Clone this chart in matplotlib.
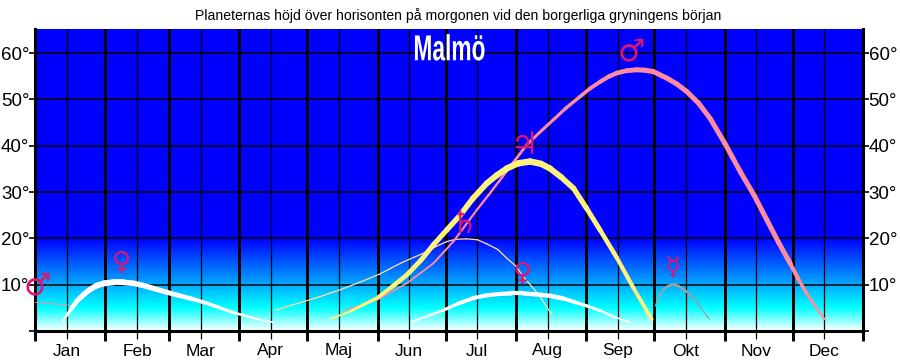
import matplotlib
matplotlib.use("Agg")
import matplotlib.pyplot as plt
import numpy as np
from matplotlib.collections import LineCollection
from matplotlib.patheffects import AbstractPathEffect
from matplotlib.transforms import Affine2D

plt.rcParams['font.family'] = ['Liberation Sans', 'DejaVu Sans']

months = ["Jan", "Feb", "Mar", "Apr", "Maj", "Jun", "Jul", "Aug", "Sep", "Okt", "Nov", "Dec"]
month_start = [0, 31, 59, 90, 120, 151, 181, 212, 243, 273, 304, 334, 365]
month_mid = [14, 45, 73, 104, 134, 165, 195, 226, 257, 287, 318, 348]
alt_ticks = [10, 20, 30, 40, 50, 60]

mars_early_d = [0, 17]
mars_early_a = [6.2, 5.5]
venus1_d = [12.2, 14, 16.2, 18.5, 21.3, 24, 27.2, 30.5, 34.5, 39, 43.4, 48, 53.6, 58.5, 63.9, 69.5, 75.7, 81.5, 87.4, 92.5, 97.7, 105]
venus1_a = [2.0, 3.4, 4.9, 6.5, 7.8, 8.9, 9.8, 10.3, 10.5, 10.5, 10.3, 9.8, 9.0, 8.3, 7.6, 6.9, 6.0, 5.0, 4.0, 3.3, 2.6, 1.9]
saturn_d = [105.8, 116.8, 125.5, 134.5, 143, 152, 161, 167, 172.7, 177, 181.5, 185.5, 190.3, 195, 199.2, 204, 208, 212, 215.3, 219, 222.7, 227.8]
saturn_a = [4.5, 6.1, 7.4, 8.9, 10.5, 12.3, 14.6, 15.9, 17.1, 18.3, 19.3, 19.8, 19.9, 19.7, 18.8, 17.6, 15.7, 14, 11.7, 9.6, 7.4, 3.5]
jupiter_d = [130, 138.9, 144.5, 150.7, 157, 163.9, 170, 175.6, 181.5, 187.4, 193, 199.2, 203.5, 208, 213, 218.3, 223, 227, 232, 237.4, 243, 249.1, 256.5, 263.8, 271.9]
jupiter_a = [2.6, 4.2, 5.6, 7.1, 9.4, 12.1, 15.2, 18.6, 21.8, 25, 28.6, 31.9, 33.6, 35.1, 36.2, 36.6, 36.1, 35.1, 33.2, 30.8, 26.6, 21.8, 15.8, 9.3, 2.5]
mars_d = [136, 150.7, 163.9, 175.6, 184.4, 194.7, 200, 205, 211, 216.8, 222.5, 228.5, 234, 240, 244.5, 249.1, 252.8, 256.5, 260.9, 265.3, 268.9, 272.6, 278.5, 283, 287.3, 292.5, 297.6, 304, 311, 317, 322.6, 327.7, 332.9, 336.5, 340.2, 344, 347.9]
mars_a = [4.4, 6.7, 10.3, 14.6, 19.3, 26.1, 29.4, 32.6, 36.5, 40.2, 42.9, 45.6, 48.1, 50.5, 52.3, 53.8, 54.9, 55.7, 56.2, 56.4, 56.3, 56, 54.6, 53.3, 51.7, 49.2, 45.9, 40.6, 34.3, 29.3, 24, 19.2, 14.6, 11.2, 8.1, 5.3, 2.6]
venus2_d = [166, 173, 180, 186.5, 193.2, 199, 205, 210, 215.3, 221, 227, 233, 238.8, 244, 249.1, 255.5, 262.3]
venus2_a = [2, 3.2, 4.5, 5.9, 7.1, 7.7, 8, 8.1, 8.1, 7.9, 7.6, 7, 6.1, 5.3, 4.4, 3, 1.9]
mercury_d = [273.4, 275, 277, 279, 281.7, 284, 287.3, 290.5, 293.2, 297.2]
mercury_a = [5.4, 7.4, 8.9, 9.7, 10.1, 9.6, 8.5, 7, 5.2, 2.6]


class Squeeze(AbstractPathEffect):
    # narrows the glyphs around a display x, matplotlib has no condensed bold here
    def __init__(self, cx, sx):
        super().__init__()
        self.cx = cx
        self.sx = sx

    def draw_path(self, renderer, gc, tpath, affine, rgbFace=None):
        squeeze = Affine2D().translate(-self.cx, 0).scale(self.sx, 1).translate(self.cx, 0)
        renderer.draw_path(gc, tpath, affine + squeeze, rgbFace)


def curve(ax, days, alts, color, w_pos, w_px, z=3):
    pts = np.column_stack([days, alts])
    segs = np.stack([pts[:-1], pts[1:]], axis=1)
    mids = (pts[:-1, 0] + pts[1:, 0]) / 2
    widths = np.interp(mids, w_pos, w_px) * 0.72
    ax.add_collection(LineCollection(segs, colors=color, linewidths=widths, capstyle='round', zorder=z))


fig = plt.figure(figsize=(9, 3.61), dpi=100)
ax = fig.add_axes([35 / 900, 1 - 331 / 361, 828 / 900, 302 / 361])

# sky gradient
h = np.linspace(0, 65.2, 600)
r = np.interp(h, [0, 5, 20], [1, 0, 0])
g = np.interp(h, [0, 5, 20], [1, 1, 0])
b = np.ones_like(h)
sky = np.dstack([r, g, b]).reshape(-1, 1, 3)
ax.imshow(sky, origin='lower', aspect='auto', extent=[0, 365, 0, 65.2], zorder=0, interpolation='bilinear')

ax.set_xlim(0, 365)
ax.set_ylim(0, 65.2)

for d in month_start:
    ax.axvline(d, color='black', lw=2.1, zorder=1)
for d in month_mid:
    ax.axvline(d, color='black', lw=0.9, zorder=1)
for a in alt_ticks:
    ax.axhline(a, color='black', lw=1.1, zorder=1)

curve(ax, mars_early_d, mars_early_a, '#ff8c9c', [0, 17], [1, 1])
curve(ax, saturn_d, saturn_a, '#ffdca0', [105, 228], [1.3, 1.3])
curve(ax, venus1_d, venus1_a, 'white', [12, 18, 30, 60, 105], [1.5, 5, 6, 5, 1.5])
curve(ax, venus2_d, venus2_a, 'white', [166, 190, 230, 262], [1.5, 4, 4.5, 1.5])
curve(ax, mars_d, mars_a, '#ff8c9c', [136, 205, 240, 265, 330, 348], [1.2, 2.4, 3.5, 5, 5, 2])
curve(ax, jupiter_d, jupiter_a, '#fff27a', [130, 160, 218, 272], [1.5, 4.5, 6.5, 3.5], z=4)
curve(ax, mercury_d, mercury_a, '#a0a0a0', [273, 282, 297], [1, 3, 1])

# planet symbols
sym = '#e0146e'
sym_kw = dict(color=sym, family='DejaVu Sans', ha='center', va='center', zorder=5, clip_on=False)
ax.text(1, 9.7, '\u2642', fontsize=22, **sym_kw)
ax.text(38, 14.7, '\u2640', fontsize=19, **sym_kw)
ax.text(263, 60.3, '\u2642', fontsize=22, **sym_kw)
ax.text(216, 40, '\u2643', fontsize=22, **sym_kw)
ax.text(189, 23, '\u2644', fontsize=22, **sym_kw)
ax.text(215, 12.3, '\u2640', fontsize=19, **sym_kw)
ax.text(281, 13.8, '\u263f', fontsize=19, **sym_kw)

ax.text(182.5, 60.5, 'Malmö', color='white', fontsize=26, fontweight='bold',
        ha='center', va='center', zorder=5, path_effects=[Squeeze(450, 0.63)])

ax.spines['top'].set_visible(False)
ax.spines['left'].set_linewidth(2.2)
ax.spines['right'].set_linewidth(2.2)
ax.spines['bottom'].set_linewidth(2.2)

ax.set_yticks([0] + alt_ticks)
ax.set_yticklabels([''] + [f'{a}°' for a in alt_ticks], fontsize=13.5)
ax.tick_params(axis='y', which='major', left=True, right=True, labelleft=True, labelright=True,
               length=4, width=1.2, pad=0)
ax.set_xticks(month_start)
ax.set_xticklabels([])
ax.tick_params(axis='x', which='major', length=7.5, width=2.1)
ax.set_xticks(month_mid, minor=True)
ax.set_xticklabels(months, minor=True, fontsize=12.5)
ax.tick_params(axis='x', which='minor', length=6, width=0.9, pad=3)

fig.text(458 / 900, 1 - 16 / 361, 'Planeternas höjd över horisonten på morgonen vid den borgerliga gryningens början',
         fontsize=10.1, ha='center', va='center', color='black')

fig.savefig('out.png', dpi=100)
